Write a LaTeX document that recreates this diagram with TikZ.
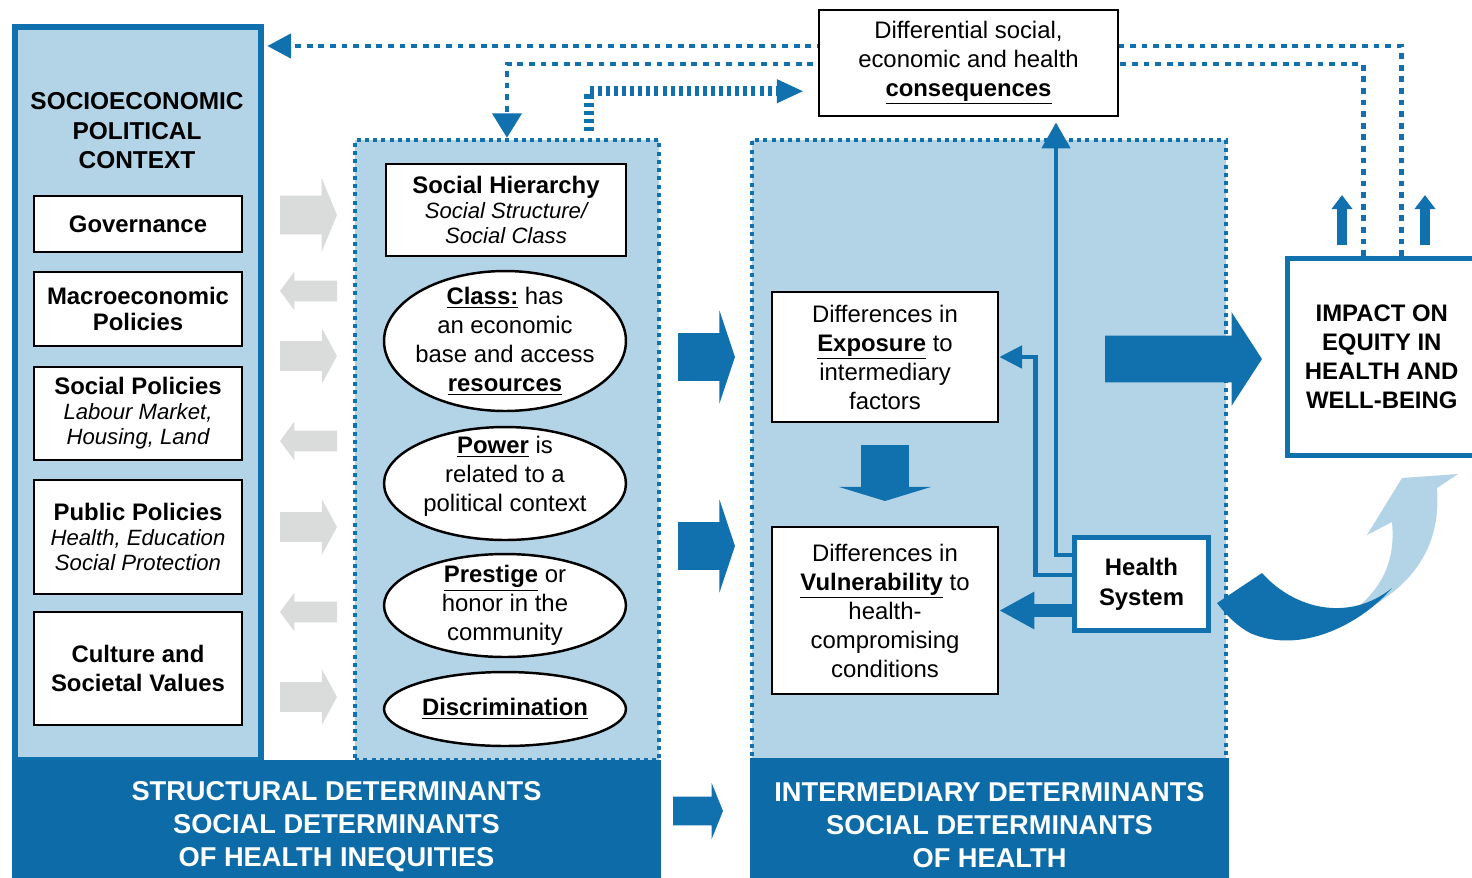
\documentclass[tikz,border=0pt]{standalone}
\usepackage{fontspec}
\setmainfont{Liberation Sans}
\usetikzlibrary{arrows.meta,calc,shapes.geometric,shapes.arrows}
\definecolor{blueD}{RGB}{16,113,174}
\definecolor{blueB}{RGB}{13,108,168}
\definecolor{blueL}{RGB}{179,212,230}
\definecolor{greyA}{RGB}{218,219,219}
\newcommand{\itx}[1]{{\fontsize{12.6}{14.2}\selectfont\itshape #1}}
\begin{document}
\begin{tikzpicture}[x=0.02cm, y=-0.02cm, line join=miter,
    every node/.style={font=\fontsize{13.6}{16.5}\selectfont, align=center},
    tight/.style={font=\fontsize{13.6}{14.2}\selectfont},
    zone/.style={draw=blueD, line width=2.5pt, dash pattern=on 2.3pt off 2.4pt, fill=blueL, minimum height=12.4cm},
    wbox/.style={draw=black, line width=1.4pt, fill=white},
    lbox/.style={wbox, minimum width=4.16cm},
    oval/.style={ellipse, draw=black, line width=1.4pt, fill=white, inner sep=0pt, minimum width=4.84cm},
    hbox/.style={draw=blueD, line width=2.8pt, fill=white, font=\bfseries\fontsize{13.6}{16.5}\selectfont},
    band/.style={fill=blueB, text=white, minimum height=2.7cm, font=\bfseries\fontsize{15.5}{18.7}\selectfont},
    blk/.style={single arrow, draw=none, inner xsep=0pt, outer sep=0pt, anchor=tail},
    greyR/.style={blk, fill=greyA, minimum height=1.14cm, inner ysep=0.29cm, single arrow head extend=0.26cm, single arrow tip angle=123},
    greyL/.style={blk, fill=greyA, shape border rotate=180, minimum height=1.14cm, inner ysep=0.2cm, single arrow head extend=0.18cm, single arrow tip angle=107},
    blueR/.style={blk, fill=blueD, minimum height=1.14cm, inner ysep=0.47cm, single arrow head extend=0.45cm, single arrow tip angle=143},
    dotline/.style={blueD, line width=2.8pt, dash pattern=on 3.3pt off 3.3pt},
    dashline/.style={blueD, line width=5.7pt, dash pattern=on 2.3pt off 2.3pt},
    hsline/.style={blueD, line width=2.8pt}]
  \useasboundingbox (0,0) rectangle (1472,877);

  % the three columns
  \node[draw=blueD, line width=3.1pt, fill=blueL, minimum width=4.92cm, minimum height=14.66cm] (ctx) at (138,393.5) {};
  \node[zone, minimum width=6.08cm] (mid) at (507,450) {};
  \node[zone, minimum width=9.48cm] (inter) at (989,450) {};
  \node[band, minimum width=12.98cm] (bandL) at (336.5,827) {STRUCTURAL DETERMINANTS\\SOCIAL DETERMINANTS\\OF HEALTH INEQUITIES};
  \node[band, minimum width=9.58cm] (bandR) at (989.5,825) {INTERMEDIARY DETERMINANTS\\SOCIAL DETERMINANTS\\OF HEALTH};

  % block arrows
  \node[greyR, inner ysep=0.38cm, single arrow head extend=0.35cm, single arrow tip angle=135] (g1) at (280,215) {};
  \node[greyL] (g2) at (337,291) {};
  \node[greyR] (g3) at (280,356) {};
  \node[greyL] (g4) at (337,441) {};
  \node[greyR] (g5) at (280,527) {};
  \node[greyL] (g6) at (337,612) {};
  \node[greyR] (g7) at (280,697) {};
  \node[blueR] (b1) at (678,357) {};
  \node[blueR] (b2) at (678,546) {};
  \node[blueR, minimum height=1cm, inner ysep=0.28cm, single arrow head extend=0.27cm, single arrow tip angle=136] (b3) at (673,811) {};
  \node[blueR, minimum height=3.14cm, inner ysep=0.46cm, single arrow head extend=0.47cm, single arrow tip angle=114] (b4) at (1105,359) {};
  \node[blueR, shape border rotate=270, minimum height=1.12cm, inner xsep=0.47cm, inner ysep=0pt, single arrow tip angle=146] (b5) at (885,445) {};

  % structural side
  \node[font=\bfseries\fontsize{13.9}{16.8}\selectfont] (ctxt) at (137,131) {SOCIOECONOMIC\\POLITICAL\\CONTEXT};
  \node[lbox, minimum height=1.12cm, font=\bfseries\fontsize{13.6}{16.5}\selectfont] (gov) at (138,224) {Governance};
  \node[lbox, minimum height=1.48cm, font=\bfseries\fontsize{13.6}{15.3}\selectfont] (macro) at (138,309) {Macroeconomic\\Policies};
  \node[lbox, minimum height=1.86cm, tight] (socp) at (138,413.5) {\textbf{Social Policies}\\\itx{Labour Market,}\\\itx{Housing, Land}};
  \node[lbox, minimum height=2.28cm, tight] (pubp) at (138,537) {\textbf{Public Policies}\\\itx{Health, Education}\\\itx{Social Protection}};
  \node[lbox, minimum height=2.26cm, font=\bfseries\fontsize{13.6}{17}\selectfont] (cult) at (138,668.5) {Culture and\\Societal Values};

  \node[wbox, minimum width=4.8cm, minimum height=1.84cm, tight] (hier) at (506,210) {\textbf{Social Hierarchy}\\\itx{Social Structure/}\\\itx{Social Class}};
  \node[oval, minimum height=2.8cm, label={center:{\textbf{\underline{Class:}} has\\an economic\\base and access\\\textbf{\underline{resources}}}}] (class) at (505,341) {};
  \node[oval, minimum height=2.26cm, label={[yshift=4pt]center:{\textbf{\underline{Power}} is\\related to a\\political context}}] (power) at (505,483.5) {};
  \node[oval, minimum height=2.06cm, label={center:{\textbf{\underline{Prestige}} or\\honor in the\\community}}] (prest) at (505,605.5) {};
  \node[oval, minimum height=1.48cm, label={center:{\textbf{\underline{Discrimination}}}}] (discr) at (505,709) {};

  % intermediary side
  \node[wbox, minimum width=4.52cm, minimum height=2.6cm] (expo) at (885,357) {Differences in\\\textbf{\underline{Exposure}} to\\intermediary\\factors};
  \node[wbox, minimum width=4.52cm, minimum height=3.34cm] (vuln) at (885,610.5) {Differences in\\\textbf{\underline{Vulnerability}} to\\health-\\compromising\\conditions};
  \node[hbox, minimum width=2.68cm, minimum height=1.86cm, font=\bfseries\fontsize{13.6}{17}\selectfont] (health) at (1141.5,584) {Health\\System};
  \node[hbox, minimum width=3.77cm, minimum height=3.94cm] (impact) at (1381.75,357) {IMPACT ON\\EQUITY IN\\HEALTH AND\\WELL-BEING};

  % swoosh
  \fill[blueL] (1330,626) .. controls (1405,598) and (1442,555) .. (1437,488) -- (1458,474) -- (1402,478) -- (1367,535) -- (1392,522) .. controls (1396,565) and (1380,598) .. (1330,626) -- cycle;
  \fill[blueD] (1217,603) -- (1262,573) .. controls (1295,610) and (1350,622) .. (1392,588) .. controls (1360,625) and (1300,655) .. (1250,633) .. controls (1237,626) and (1226,615) .. (1217,603) -- cycle;

  % feedback lines
  \coordinate (r1) at (0,46);
  \coordinate (r2) at (0,64);
  \draw[dotline, -{Triangle[length=13.6pt, width=13.6pt]}, shorten >=2pt] ($(impact.north)+(19.5,0)$) |- (ctx.east |- r1);
  \draw[dotline, -{Triangle[length=14pt, width=16.4pt]}] ($(impact.north)+(-18.5,0)$) |- (mid.north |- r2) -- (mid.north);

  \node[wbox, minimum width=5.98cm, minimum height=2.12cm] (cons) at (968.5,63) {Differential social,\\economic and health\\\textbf{\underline{consequences}}};

  \draw[dashline, -{Triangle[length=15.3pt, width=12.5pt]}, shorten <=4pt, shorten >=8pt] ($(mid.north)+(82,0)$) |- ($(cons.south west)+(0,-26)$);
  \draw[hsline, -{Triangle[length=14.7pt, width=15.9pt]}, shorten >=3pt] ($(health.west)+(0,-29)$) -| ($(cons.south)+(87.5,0)$);
  \draw[hsline, -{Triangle[length=13pt, width=12.5pt]}] ($(health.west)+(0,-9)$) -| ($(expo.east)+(36,0)$) -- (expo.east);
  \draw[blueD, line width=7.4pt, -{Triangle[length=20pt, width=20pt]}] (health.west |- vuln.east) -- (vuln.east);
  \draw[blueD, line width=5.7pt, -{Triangle[length=8pt, width=11.5pt]}] ($(impact.north)+(-39.75,-11)$) -- ++(0,-50);
  \draw[blueD, line width=5.7pt, -{Triangle[length=8pt, width=11.5pt]}] ($(impact.north)+(43.25,-11)$) -- ++(0,-50);
\end{tikzpicture}
\end{document}
